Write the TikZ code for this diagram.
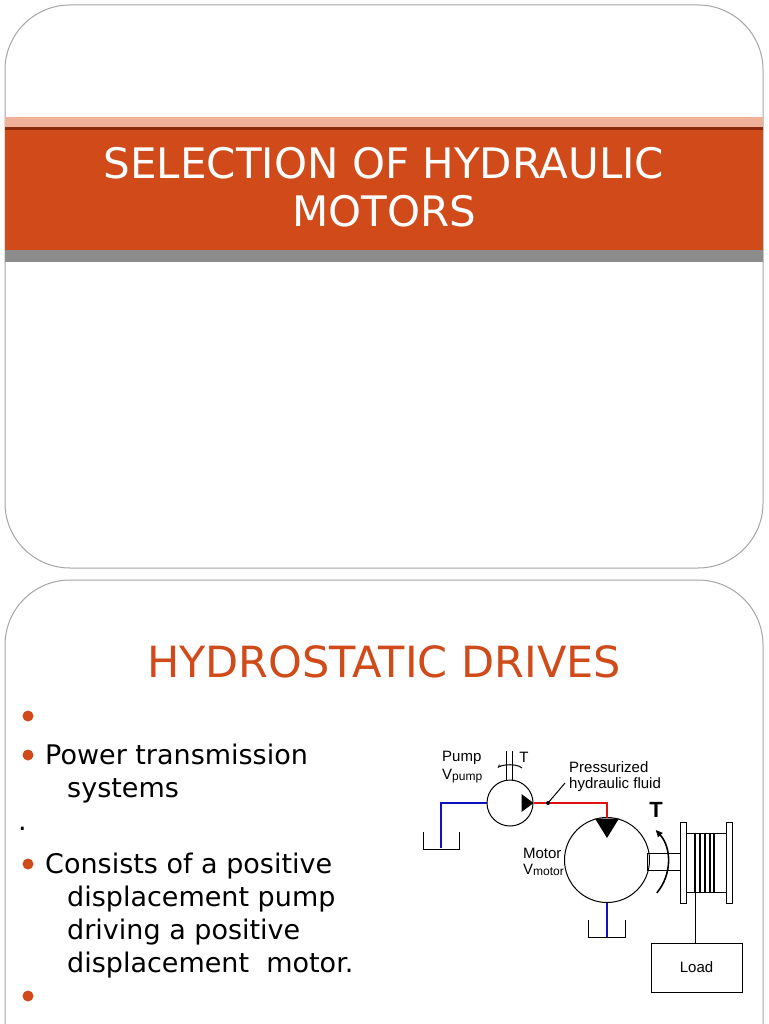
\documentclass[tikz,border=0pt]{standalone}
\usepackage{fontspec}
\setmainfont{DejaVu Sans}
\newfontfamily\arialf{Liberation Sans}
\usetikzlibrary{arrows.meta}
\definecolor{orng}{HTML}{D04A1A}
\definecolor{salmon}{HTML}{F0B098}
\definecolor{dkred}{HTML}{8A2A0A}
\definecolor{bandgray}{HTML}{8C8C8C}
\definecolor{hblue}{HTML}{1010C0}
\definecolor{hred}{HTML}{E01010}
\begin{document}
\begin{tikzpicture}[x=1pt,y=-1pt,
  bul/.style={circle,fill=orng,inner sep=0pt,minimum size=11pt},
  btxt/.style={anchor=base west,font=\fontsize{27}{30}\selectfont,inner sep=0pt},
  lbl/.style={font=\arialf\fontsize{15}{16}\selectfont,inner sep=0pt},
  pipe/.style={line width=2.2pt},
  thin/.style={line width=1pt}]
\useasboundingbox (0,0) rectangle (768,1024);
\fill[white] (0,0) rectangle (768,1024);
% top slide
\draw[gray!70,line width=1pt,rounded corners=65pt] (5,5) rectangle (763,568);
\fill[salmon] (5,117) rectangle (763,127);
\fill[dkred] (5,127) rectangle (763,130);
\fill[orng] (5,130) rectangle (763,250);
\fill[bandgray] (5,250) rectangle (763,262);
\node[text=white,align=center,font=\fontsize{42}{48}\selectfont] (title) at (384,187) {SELECTION OF HYDRAULIC\\MOTORS};
% bottom slide
\draw[gray!70,line width=1pt,rounded corners=65pt] (5,1060) -- (5,580) -- (763,580) -- (763,1060);
\node[text=orng,font=\fontsize{43}{48}\selectfont] (h2) at (384,662) {HYDROSTATIC DRIVES};
\node[bul] (b1) at (28,716) {};
\node[bul] (b2) at (28,755) {};
\node[btxt] (t2) at (45,764) {Power transmission};
\node[btxt] (t2b) at (67,797) {systems};
\node[btxt] (dot) at (18,830) {.};
\node[bul] (b3) at (28,864) {};
\node[btxt] (t3) at (45,873) {Consists of a positive};
\node[btxt] (t3b) at (67,906) {displacement pump};
\node[btxt] (t3c) at (67,939) {driving a positive};
\node[btxt] (t3d) at (67,972) {displacement\ \ motor.};
\node[bul] (b4) at (28,996) {};
% hydraulic diagram
\node[circle,draw,thin,minimum size=46pt,inner sep=0pt] (pump) at (510,803) {};
\node[circle,draw,thin,minimum size=85pt,inner sep=0pt] (motor) at (607,860) {};
\draw[thin] (506,751) -- (506,780) (512,751) -- (512,780);
\draw[thin,-{Stealth[length=4pt]}] (522,768) arc[start angle=-20,end angle=-160,x radius=13,y radius=5];
\node[lbl] (Tp) at (524,757) {T};
\node[lbl,anchor=west] (pl) at (442,758) {Pump};
\node[lbl,anchor=west] (pv) at (442,776) {V\raisebox{-1pt}{\fontsize{12}{13}\selectfont pump}};
\fill (pump.east) -- ++(-12,-9) -- ++(0,18) -- cycle;
\draw[pipe,hblue] (pump.west) -- (441,803) -- (441,848);
\draw[thin] (423,832) -- (423,849) -- (459,849) -- (459,832);
\draw[pipe,hred] (pump.east) -- (607,803) -- (607,818);
\fill (595,818.5) -- (619,818.5) -- (607,838) -- cycle;
\coordinate (fl) at (548,803);
\fill (fl) circle (2pt);
\draw[thin] (fl) -- (565,783);
\node[lbl,anchor=west,align=left] (pf) at (569,777) {Pressurized\\hydraulic fluid};
\node[lbl,anchor=east,align=left] (ml) at (564,862) {Motor\\V\raisebox{-1pt}{\fontsize{12}{13}\selectfont motor}};
\draw[pipe,hblue] (motor.south) -- (607,937);
\draw[thin] (588,920) -- (588,937) -- (625,937) -- (625,920);
\draw[thin] (647,853) rectangle (680,870);
\draw[thin] (680,822) rectangle (686,903);
\draw[thin] (726,822) rectangle (732,903);
\draw[thin] (686,833) rectangle (726,892);
\foreach \xx in {695,700,705,710,714} \draw[line width=1.3pt] (\xx,833) -- (\xx,892);
\draw[line width=1.6pt,-{Triangle[length=7pt,width=6pt]}] (656.8,892.9) arc[start angle=40,end angle=-42,radius=48];
\node[font=\arialf\bfseries\fontsize{22}{24}\selectfont] (Tm) at (656,810) {T};
\draw[thin] (695,892) -- (695,943);
\node[draw,thin,minimum width=91pt,minimum height=49pt,lbl] (load) at (696.5,967.5) {Load};
\end{tikzpicture}
\end{document}
